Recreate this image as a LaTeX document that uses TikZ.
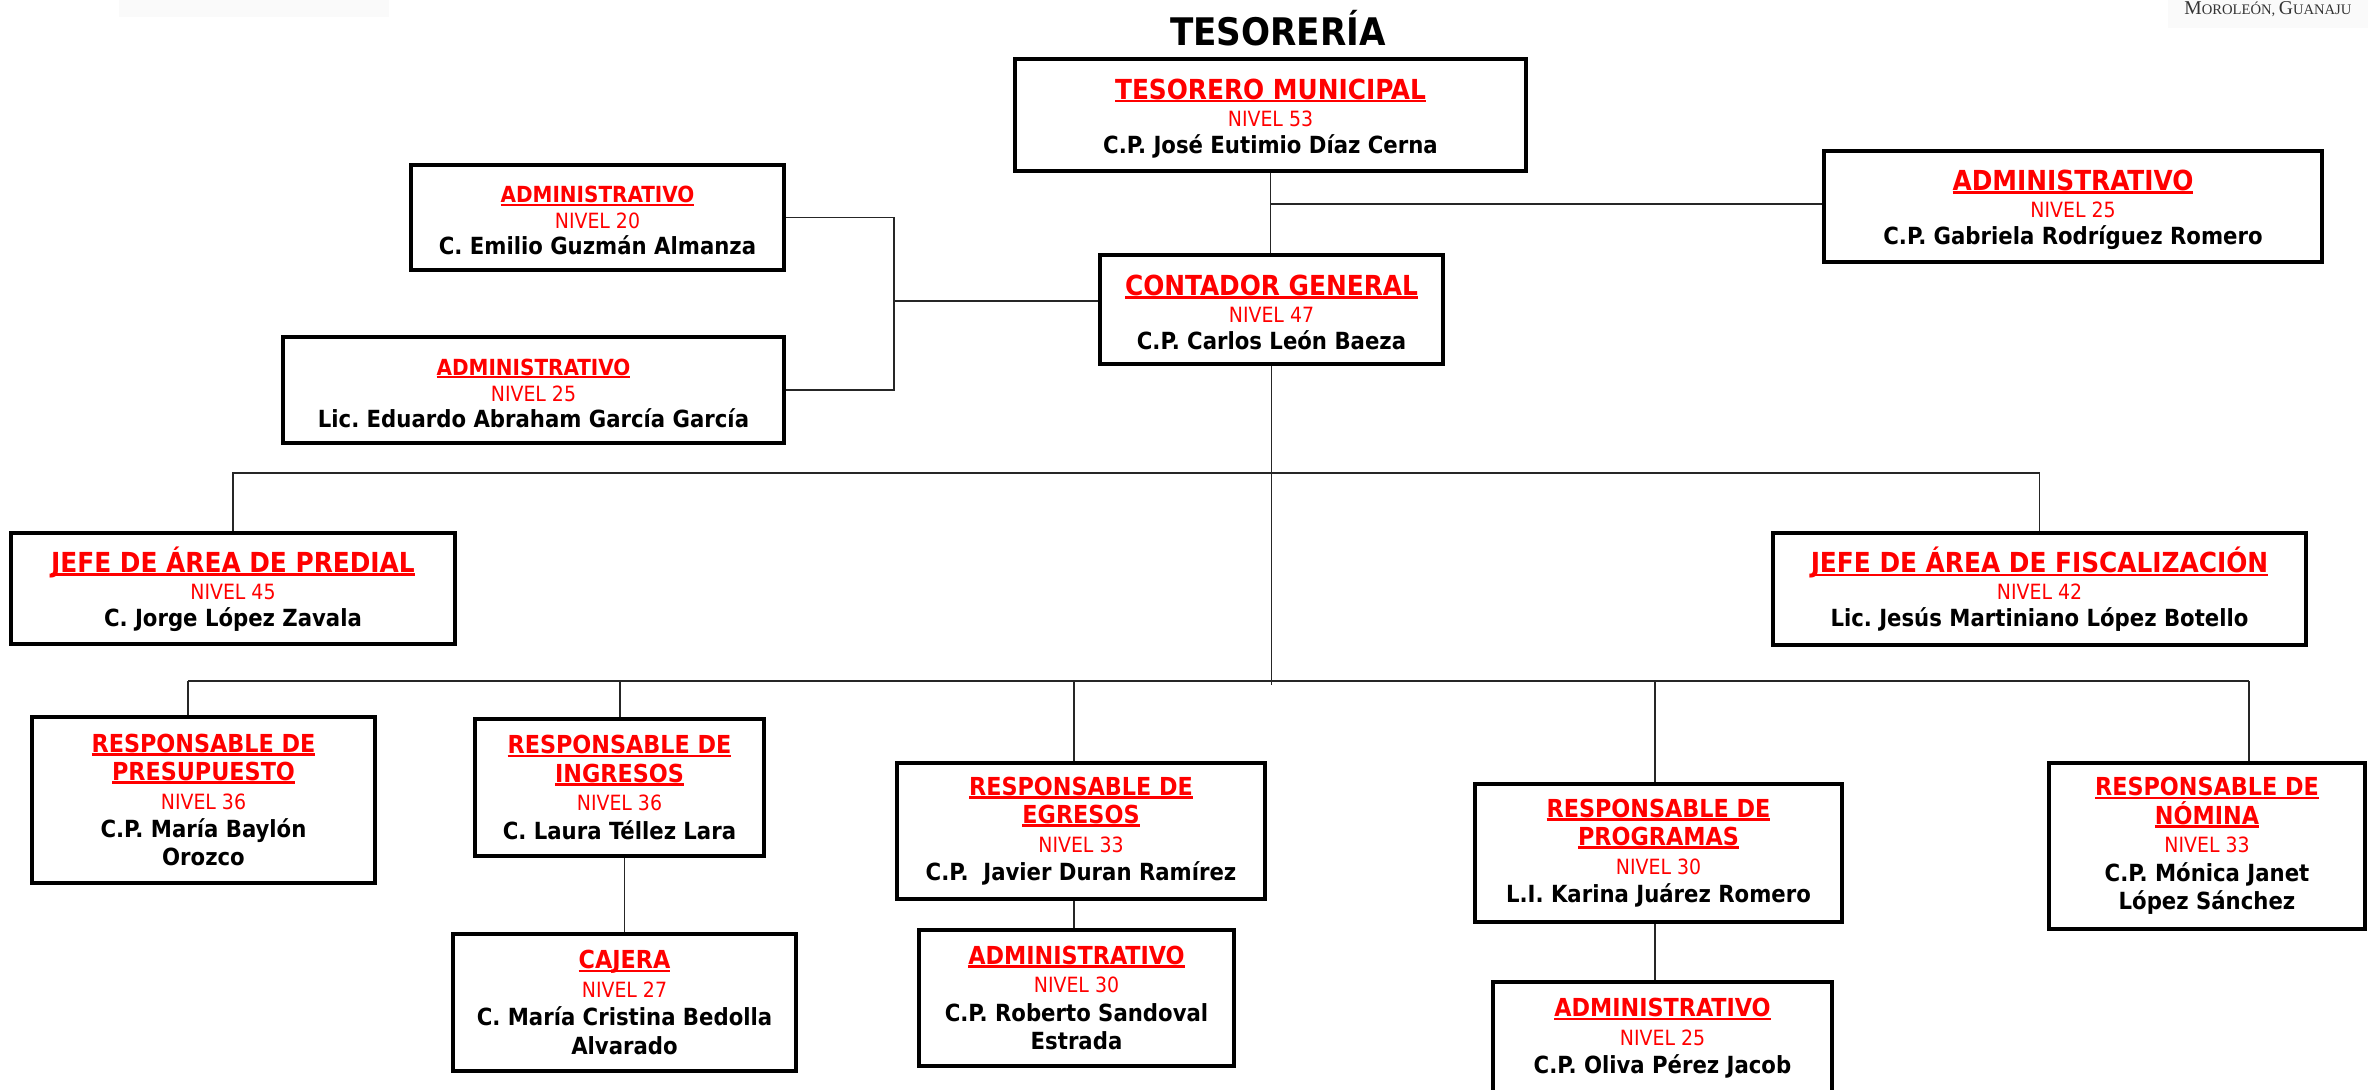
\documentclass[tikz,border=0pt]{standalone}
\usepackage{fontspec}
\setmainfont{DejaVu Sans Condensed}
\newfontfamily\hdrfont{Liberation Serif}
\usetikzlibrary{calc}
\frenchspacing
\newsavebox\ulbox
\newcommand\ulx[2]{\sbox\ulbox{#2}\rlap{\rule[-1.7pt]{\wd\ulbox}{#1}}\usebox\ulbox}
\newcommand\ttlA[1]{{\fontsize{13.8pt}{13.5pt}\selectfont\bfseries\color{red}\rule{0pt}{13.4pt}\ulx{1.4pt}{#1}}}
\newcommand\ttlB[1]{{\fontsize{12.4pt}{14pt}\selectfont\bfseries\color{red}\ulx{1.3pt}{#1}}}
\newcommand\ttlC[1]{{\fontsize{11.1pt}{13pt}\selectfont\bfseries\color{red}\rule{0pt}{11.2pt}\ulx{1.2pt}{#1}}}
\newcommand\niv[1]{{\fontsize{10.5pt}{12pt}\selectfont\color{red}#1}}
\newcommand\nm[1]{{\fontsize{11.8pt}{13.5pt}\selectfont\bfseries #1}}
\tikzset{
  orgbox/.style={draw=black, line width=1.7pt, align=center, inner sep=0pt, fill=white,
    font=\fontsize{11.8pt}{13.5pt}\selectfont},
  orgboxB/.style={orgbox, font=\fontsize{11.8pt}{14.2pt}\selectfont},
  link/.style={line width=0.8pt, draw=black!85},
}
\begin{document}
\begin{tikzpicture}[x=0.5pt,y=-0.5pt]
\useasboundingbox (0,0) rectangle (2368,1089);
\clip (0,0) rectangle (2368,1089);
\fill[white] (0,0) rectangle (2368,1089);
% header remnants
\fill[black!2] (119,0) rectangle (389,17);
\fill[black!2] (2168,0) rectangle (2368,28);
\node[anchor=base west, inner sep=0pt, text=black!80] (hdr) at (2184,14)
  {\hdrfont\fontsize{9.8pt}{11pt}\selectfont M\fontsize{7.3pt}{11pt}\selectfont OROLEÓN, \fontsize{9.8pt}{11pt}\selectfont G\fontsize{7.3pt}{11pt}\selectfont UANAJU};
% title
\node[anchor=base, inner sep=0pt, font=\fontsize{19pt}{20pt}\selectfont\bfseries] (title) at (1278,45) {TESORERÍA};

% boxes
\node[orgbox, minimum width=255.5pt, minimum height=56pt] (tes) at (1270.5,115)
  {\ttlA{TESORERO MUNICIPAL}\\ \niv{NIVEL 53}\\ \nm{C.P. José Eutimio Díaz Cerna}};
\node[orgbox, minimum width=249pt, minimum height=55.5pt] (gab) at (2073,206.5)
  {\ttlA{ADMINISTRATIVO}\\ \niv{NIVEL 25}\\ \nm{C.P. Gabriela Rodríguez Romero}};
\node[orgbox, minimum width=186.5pt, minimum height=52.5pt, font=\fontsize{11.8pt}{13pt}\selectfont] (emi) at (597.5,217.5)
  {\ttlC{ADMINISTRATIVO}\\ \niv{NIVEL 20}\\ \nm{C. Emilio Guzmán Almanza}};
\node[orgbox, minimum width=250.5pt, minimum height=53pt, font=\fontsize{11.8pt}{13pt}\selectfont] (edu) at (533.5,390)
  {\ttlC{ADMINISTRATIVO}\\ \niv{NIVEL 25}\\ \nm{Lic. Eduardo Abraham García García}};
\node[orgbox, minimum width=171.5pt, minimum height=54.5pt] (con) at (1271.5,309.5)
  {\ttlA{CONTADOR GENERAL}\\ \niv{NIVEL 47}\\ \nm{C.P. Carlos León Baeza}};
\node[orgbox, minimum width=222pt, minimum height=55.5pt] (pre) at (233,588.5)
  {\ttlA{JEFE DE ÁREA DE PREDIAL}\\ \niv{NIVEL 45}\\ \nm{C. Jorge López Zavala}};
\node[orgbox, minimum width=266.5pt, minimum height=56pt] (fis) at (2039.5,589)
  {\ttlA{JEFE DE ÁREA DE FISCALIZACIÓN}\\ \niv{NIVEL 42}\\ \nm{Lic. Jesús Martiniano López Botello}};
\node[orgboxB, minimum width=171.5pt, minimum height=83pt] (pres) at (203.5,800)
  {\ttlB{RESPONSABLE DE}\\ \ttlB{PRESUPUESTO}\\ \niv{NIVEL 36}\\ \nm{C.P. María Baylón}\\ \nm{Orozco}};
\node[orgboxB, minimum width=144.5pt, minimum height=68.5pt] (ing) at (619.5,787.5)
  {\ttlB{RESPONSABLE DE}\\ \ttlB{INGRESOS}\\ \niv{NIVEL 36}\\ \nm{C. Laura Téllez Lara}};
\node[orgboxB, minimum width=171.5pt, minimum height=68.5pt] (caj) at (624.5,1002.5)
  {\ttlB{CAJERA}\\ \niv{NIVEL 27}\\ \nm{C. María Cristina Bedolla}\\ \nm{Alvarado}};
\node[orgboxB, minimum width=184pt, minimum height=68pt] (egr) at (1081,831)
  {\ttlB{RESPONSABLE DE}\\ \ttlB{EGRESOS}\\ \niv{NIVEL 33}\\ \nm{C.P.~~Javier Duran Ramírez}};
\node[orgboxB, minimum width=157.5pt, minimum height=68pt] (rob) at (1076.5,998)
  {\ttlB{ADMINISTRATIVO}\\ \niv{NIVEL 30}\\ \nm{C.P. Roberto Sandoval}\\ \nm{Estrada}};
\node[orgboxB, minimum width=183.5pt, minimum height=69pt] (prog) at (1658.5,853)
  {\ttlB{RESPONSABLE DE}\\ \ttlB{PROGRAMAS}\\ \niv{NIVEL 30}\\ \nm{L.I. Karina Juárez Romero}};
\node[orgboxB, minimum width=169.5pt, minimum height=56.5pt] (oli) at (1662.5,1038.5)
  {\ttlB{ADMINISTRATIVO}\\ \niv{NIVEL 25}\\ \nm{C.P. Oliva Pérez Jacob}};
\node[orgboxB, minimum width=158pt, minimum height=83pt] (nom) at (2207,846)
  {\ttlB{RESPONSABLE DE}\\ \ttlB{NÓMINA}\\ \niv{NIVEL 33}\\ \nm{C.P. Mónica Janet}\\ \nm{López Sánchez}};

% connectors
\coordinate (bk) at (894,301);
\draw[link] (emi.east) -| (bk) |- (edu.east);
\draw[link] (bk) -- (bk -| con.west);
\draw[link] (tes.south) -- (tes.south |- con.north);
\coordinate (g) at (1270.5,204);
\draw[link] (g) -- (g -| gab.west);
\coordinate (cend) at (1271.5,685);
\draw[link] (con.south) -- (cend);
\coordinate (b1) at (1271.5,473);
\draw[link] (pre.north) |- (b1) -| (fis.north);
\coordinate (d1) at (188,681);
\coordinate (d2) at (620,681);
\coordinate (d3) at (1074,681);
\coordinate (d4) at (1655,681);
\coordinate (d5) at (2249,681);
\draw[link] (d1) -- (d5);
\draw[link] (d1) -- (d1 |- pres.north);
\draw[link] (d2) -- (d2 |- ing.north);
\draw[link] (d3) -- (d3 |- egr.north);
\draw[link] (d4) -- (d4 |- prog.north);
\draw[link] (d5) -- (d5 |- nom.north);
\draw[link] (caj.north) -- (caj.north |- ing.south);
\draw[link] (d3 |- egr.south) -- (d3 |- rob.north);
\draw[link] (d4 |- prog.south) -- (d4 |- oli.north);
\end{tikzpicture}
\end{document}
